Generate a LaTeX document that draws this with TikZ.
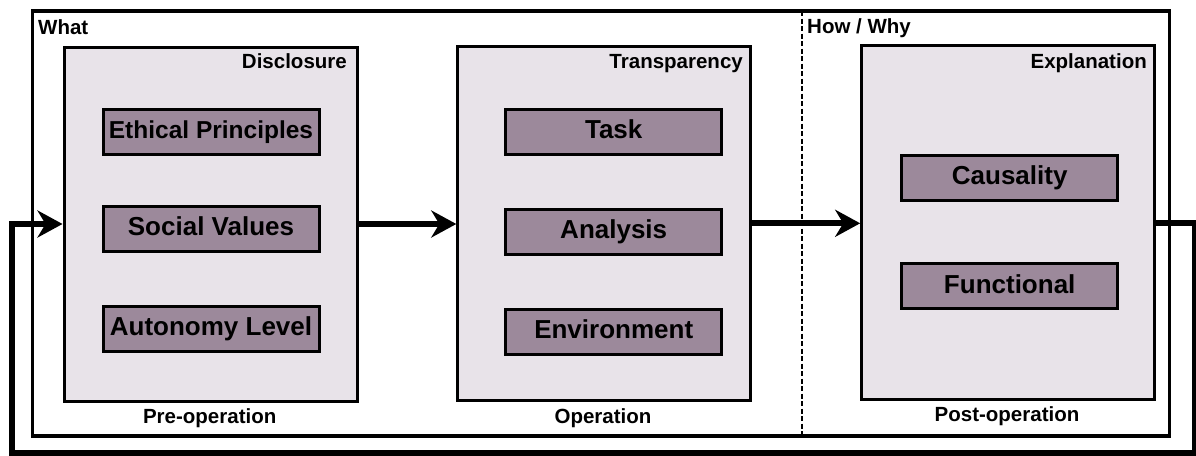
\documentclass[tikz,border=0pt]{standalone}
\usepackage{fontspec}
\setmainfont{Liberation Sans}
\usetikzlibrary{arrows.meta}
\definecolor{stagefill}{HTML}{E8E3E9}
\definecolor{itemfill}{HTML}{9C899B}
\begin{document}
\begin{tikzpicture}[x=1pt,y=-1pt,
  frame/.style={draw, line width=3.2pt, fill=white, inner sep=0pt,
    minimum width=1137pt, minimum height=425pt},
  stage/.style={draw, line width=3pt, fill=stagefill, inner sep=0pt,
    minimum width=293pt, minimum height=354pt},
  item/.style={draw, line width=3pt, fill=itemfill, inner sep=0pt,
    minimum width=216pt, minimum height=45pt, text height=19pt, text depth=5.3pt,
    font=\fontsize{26}{30}\selectfont\bfseries},
  tag/.style={font=\fontsize{20.5}{24}\selectfont\bfseries, inner sep=0pt},
  divider/.style={line width=1.4pt, dash pattern=on 5pt off 2.5pt},
  flow/.style={line width=6pt, line join=miter,
    -{Stealth[length=25pt,width=27pt,inset=8pt]}},
]
\useasboundingbox (0,0) rectangle (1196,455);

% outer frame and the What / How-Why divider
\node[frame] (frame) at (601,223.5) {};
\coordinate (divtop) at (802,11);
\coordinate (divbot) at (802,436);
\draw[divider] (divtop) -- (divbot);
\node[tag, anchor=base west] (what) at (38,34) {What};
\node[tag, anchor=base west] (howwhy) at (807,33.5) {How / Why};

% stages
\node[stage] (disc)  at (210.5,224) {};
\node[stage] (trans) at (604.3,223.3) {};
\node[stage] (expl)  at (1008.2,222.8) {};
\node[tag, anchor=base east] (disctitle)  at (347,68)  {Disclosure};
\node[tag, anchor=base east] (transtitle) at (743,68)  {Transparency};
\node[tag, anchor=base east] (expltitle)  at (1147,68) {Explanation};

% stage contents
\node[item, font=\fontsize{24.5}{28}\selectfont\bfseries] (ethic) at (211,131.5) {Ethical Principles};
\node[item] (social)   at (211,229)     {Social Values};
\node[item] (auton)    at (211,329)     {Autonomy Level};
\node[item] (task)     at (613.7,132)   {Task};
\node[item] (analysis) at (613.7,232)   {Analysis};
\node[item] (envir)    at (613.7,332)   {Environment};
\node[item] (caus)     at (1009.7,177.8) {Causality};
\node[item] (func)     at (1009.7,286.2) {Functional};

% phase captions
\node[tag, anchor=base] (preop)  at (209.7,423) {Pre-operation};
\node[tag, anchor=base] (op)     at (603,423)   {Operation};
\node[tag, anchor=base] (postop) at (1007,421)  {Post-operation};

% flow between stages and the feedback loop
\draw[flow] (disc.east) -- (disc.east -| trans.west);
\draw[flow] (trans.east) -- (trans.east -| expl.west);
\coordinate (loopR) at (1194.5,453);
\coordinate (loopL) at (11.5,453);
\draw[flow] (expl.east) -| (loopR) -- (loopL) |- (disc.west);
\end{tikzpicture}
\end{document}
